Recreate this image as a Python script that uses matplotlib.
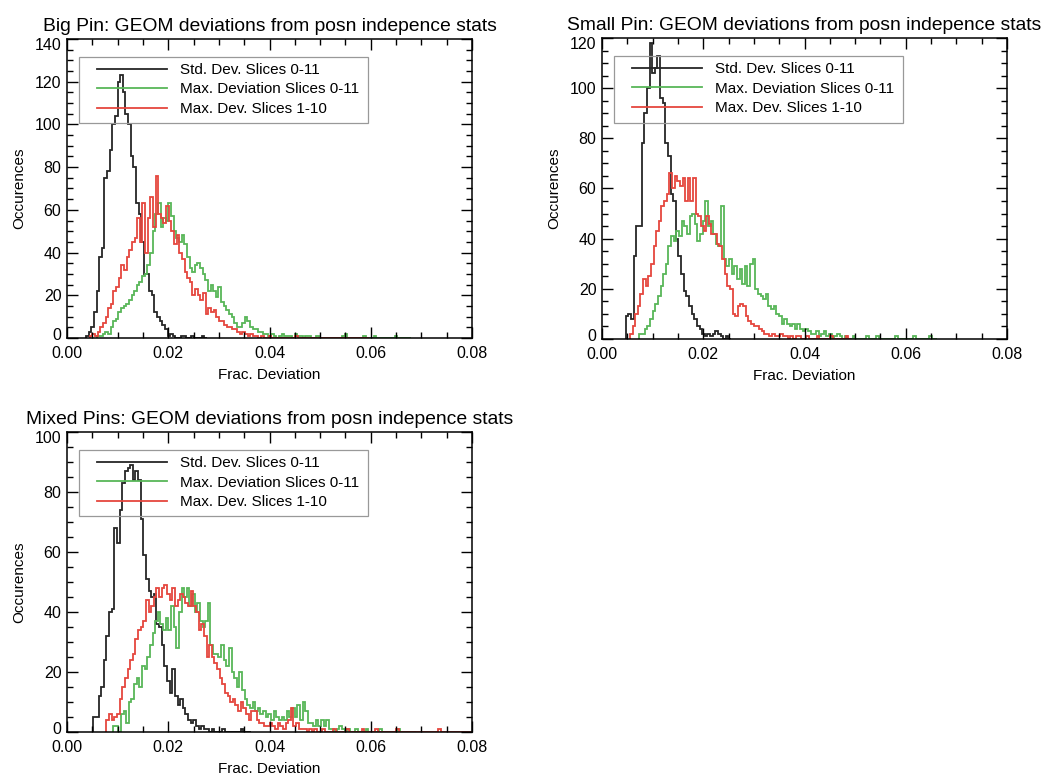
import matplotlib
matplotlib.use('Agg')
import matplotlib.pyplot as plt
import matplotlib.transforms as mtransforms
from matplotlib.patches import Rectangle
from matplotlib.ticker import MultipleLocator, FormatStrFormatter
import numpy as np

plt.rcParams['font.family'] = ['Liberation Sans', 'DejaVu Sans']

# histogram bin width (Frac. Deviation units)
BIN = 0.00052

labels = ['Std. Dev. Slices 0-11', 'Max. Deviation Slices 0-11', 'Max. Dev. Slices 1-10']
titles = ['Big Pin: GEOM deviations from posn indepence stats',
          'Small Pin: GEOM deviations from posn indepence stats',
          'Mixed Pins: GEOM deviations from posn indepence stats']
ymax = [140, 120, 100]

# ---- Big Pin ----
big_std_start = 0.00375
big_std = [1,3,5,12,22,38,42,75,78,88,100,104,120,123,115,105,100,85,80,63,
           58,45,30,30,22,20,12,10,8,6,4,1,2,1,0,0,1,1,0,0,1,0,0,0,1,0]
big_max_start = 0.006
big_max = [1,1,2,3,2,5,8,9,12,14,15,16,18,20,22,25,26,29,30,34,
           40,50,58,63,52,56,55,63,57,50,47,45,48,44,38,33,31,34,35,33,
           30,27,22,25,22,19,24,17,15,13,11,10,7,5,5,7,10,8,5,4,
           4,3,3,2,2,1,2,1,0,1,2,1,1,1,0,2,1,1,0,1,
           1,0,0,1,0,0,0,0,0,0,0,0,0,1,2,0,0,0,0,0,
           0,1,0,0,0,1,0,0,0,0,0,0,0,1,0,0,0,0,0]
big_m110_start = 0.0045
big_m110 = [1,2,1,3,5,7,10,14,16,22,24,28,34,32,38,41,45,47,56,45,
            63,40,56,66,52,76,58,56,54,62,55,50,44,48,40,37,31,28,26,20,
            23,20,18,21,11,14,12,13,10,8,8,6,5,5,4,4,3,2,3,2,
            1,2,1,1,0,1,0,0,1,0,0,0,0,0,0,0,0,0,1,0,
            0,0,0,0,0,0,0,0,0,0,0,0,0,0,0,0,0,0,0,0,0,0,0,0,0,0]

# ---- Small Pin ----
small_std_start = 0.0047
small_std = [9,10,8,33,45,45,78,90,100,118,106,108,113,96,94,78,73,58,55,40,
             33,26,19,17,13,10,8,5,4,2,1,2,1,2,3,2,1,0,1,0]
small_max_start = 0.0074
small_max = [2,2,4,5,8,11,14,17,21,26,30,37,41,39,43,41,47,45,42,49,
             50,46,39,42,47,55,45,47,42,38,37,53,32,29,32,26,29,24,28,22,
             29,21,30,32,20,18,17,16,18,13,12,13,10,9,6,8,6,5,6,4,
             6,4,3,4,3,2,2,3,1,2,3,1,2,0,1,2,1,0,1,0,
             0,1,0,0,0,0,1,0,0,0,1,0,0,0,0,0,0,1,0,0,
             0,0,0,0,1,0,0,0,0,0,1,0,0]
small_m110_start = 0.0055
small_m110 = [2,5,10,13,18,24,21,25,30,37,43,47,53,55,58,66,60,65,63,61,
              64,55,64,55,64,50,49,45,43,49,46,42,42,38,37,32,26,21,20,10,
              9,13,14,13,9,7,6,5,5,4,3,2,2,1,2,1,1,2,1,1,
              0,1,0,1,1,0,0,1,0,0,0,1,0,0,0,0,1,0,0,0,0,0,1,0]

# ---- Mixed Pins ----
mixed_std_start = 0.0052
mixed_std = [5,5,12,15,24,32,40,41,68,63,74,83,87,88,89,84,87,84,71,59,
             51,47,45,46,36,35,29,22,17,13,21,12,9,11,8,6,4,3,4,2,
             1,2,1,1,0,1,0,0,0,1,0,0,0,0,0,0,1,0,0,0]
mixed_max_start = 0.0091
mixed_max = [2,2,0,6,7,3,10,11,16,18,15,22,21,25,29,33,37,40,36,34,
             38,34,42,35,28,40,48,45,48,42,46,40,43,37,35,37,43,29,26,26,
             25,29,24,22,28,20,18,15,20,14,11,9,8,10,7,8,6,7,5,6,
             4,7,5,4,5,4,7,5,8,5,9,4,10,7,3,3,2,4,2,4,
             2,4,1,1,0,1,2,1,0,1,0,0,1,0,0,0,1,0,0,0,
             0,1,0,0,0,0,0,0,1,0,0,0,0,0,0]
mixed_m110_start = 0.0078
mixed_m110 = [4,6,4,5,6,11,15,18,21,24,26,31,34,35,37,44,40,42,45,48,
              45,48,49,46,44,48,42,44,46,45,43,42,47,42,40,34,36,32,25,29,
              25,23,21,18,16,13,12,10,11,9,7,10,8,6,4,7,7,4,3,3,
              2,2,3,2,1,3,2,1,3,4,8,2,3,1,1,1,0,1,0,1,
              0,0,1,0,0,0,1,0,0,0,0,1,0,0,0,0,0,1,0,0,
              0,0,1,0,0,0,0,0,0,0,1,0,0,0,0,0,0,0,0,0,
              0,0,0,0,0,0,1,0,0,0,0,0,0,0,0,0,0,0,0]

panels = [
    [(big_std_start, big_std), (big_max_start, big_max), (big_m110_start, big_m110)],
    [(small_std_start, small_std), (small_max_start, small_max), (small_m110_start, small_m110)],
    [(mixed_std_start, mixed_std), (mixed_max_start, mixed_max), (mixed_m110_start, mixed_m110)],
]
colors = ['#262626', '#58b658', '#e5463e']

# axes rectangles in figure fraction
rects = [[0.0641, 0.5667, 0.3876, 0.3833],
         [0.5761, 0.5654, 0.3876, 0.3859],
         [0.0641, 0.0615, 0.3876, 0.3846]]

fig = plt.figure(figsize=(10.45, 7.8), dpi=100)

for k in range(3):
    ax = fig.add_axes(rects[k])
    for (x0, counts), c, lab in zip(panels[k], colors, labels):
        counts = np.asarray(counts, dtype=float)
        edges = x0 + BIN*np.arange(len(counts)+1)
        ax.stairs(counts, edges, color=c, lw=1.3, label=lab)

    ax.set_xlim(0, 0.08)
    ax.set_ylim(0, ymax[k])
    ax.set_xticks(np.arange(0, 0.081, 0.02))
    ax.set_yticks(np.arange(0, ymax[k]+1, 20))
    ax.xaxis.set_minor_locator(MultipleLocator(0.005))
    ax.xaxis.set_major_formatter(FormatStrFormatter('%.2f'))
    ax.yaxis.set_minor_locator(MultipleLocator(5))
    ax.tick_params(which='both', direction='in', top=True, right=True,
                   labelsize=11.5, width=1.0)
    ax.tick_params(axis='x', pad=6)
    ax.tick_params(axis='y', pad=4)
    ax.tick_params(which='major', length=8)
    ax.tick_params(which='minor', length=4)
    for s in ax.spines.values():
        s.set_linewidth(1.1)

    # nudge the end labels of the y axis inwards, as in the original
    yt = ax.yaxis.get_major_ticks()
    for t, dy in ((yt[0], 4), (yt[-1], -5)):
        t.label1.set_transform(t.label1.get_transform() +
                               mtransforms.ScaledTranslation(0, dy/100, fig.dpi_scale_trans))

    ax.set_title(titles[k], fontsize=13.9, pad=6)
    ax.set_xlabel('Frac. Deviation', fontsize=11, labelpad=5)
    ax.set_ylabel('Occurences', fontsize=11, labelpad=6)

    # legend frame drawn by hand, legend itself transparent
    ax.add_patch(Rectangle((0.03, 0.719), 0.713, 0.221, transform=ax.transAxes,
                           fill=False, edgecolor='#999999', lw=0.9, zorder=5))
    ax.legend(loc='upper left', bbox_to_anchor=(0.074, 0.92), frameon=False,
              fontsize=11, borderpad=0, borderaxespad=0, handlelength=4.6,
              handletextpad=0.85, labelspacing=0.36)

fig.savefig('out.png', dpi=100)
